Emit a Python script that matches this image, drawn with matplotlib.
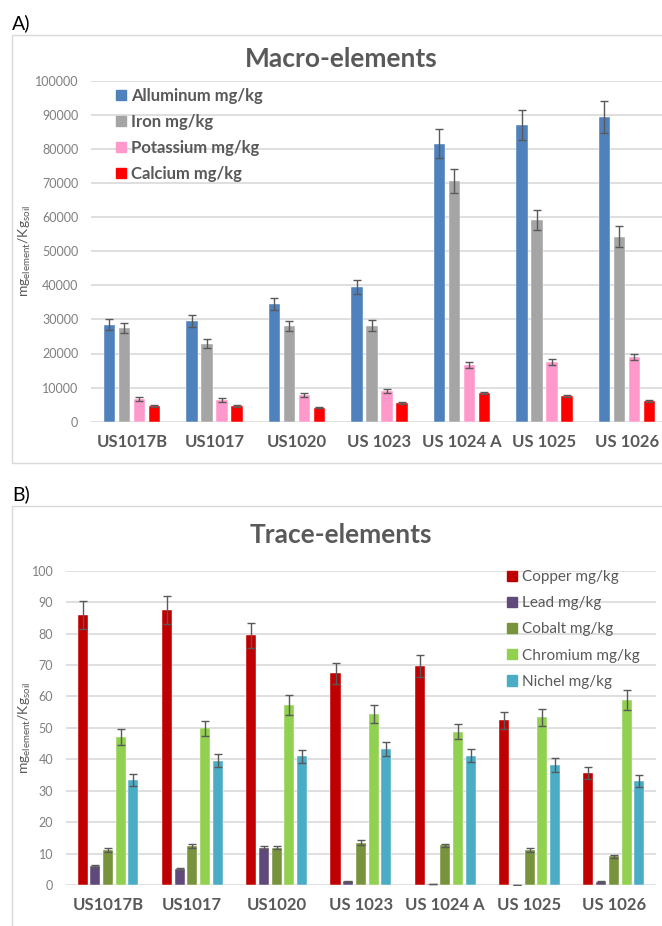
import matplotlib
matplotlib.use("Agg")
import matplotlib.pyplot as plt
from matplotlib.patches import Patch, Rectangle
import numpy as np

plt.rcParams['font.family'] = ['Lato', 'DejaVu Sans']
plt.rcParams['mathtext.fontset'] = 'custom'
plt.rcParams['mathtext.rm'] = 'Lato'
plt.rcParams['mathtext.it'] = 'Lato:italic'

samples = ["US1017B", "US1017", "US1020", "US 1023", "US 1024 A", "US 1025", "US 1026"]

# Macro-elements (mg/kg)
macro_labels = ["Alluminum mg/kg", "Iron mg/kg", "Potassium mg/kg", "Calcium mg/kg"]
aluminum = [28400, 29600, 34500, 39500, 81500, 87000, 89400]
aluminum_err = [1600, 1700, 1700, 2000, 4200, 4400, 4700]
iron = [27400, 22900, 28000, 28200, 70600, 59200, 54300]
iron_err = [1500, 1300, 1500, 1600, 3600, 3000, 3100]
potassium = [6700, 6400, 7700, 9000, 16700, 17500, 19100]
potassium_err = [500, 500, 600, 500, 900, 900, 900]
calcium = [4500, 4500, 4100, 5500, 8500, 7500, 6000]
calcium_err = [300, 300, 200, 300, 300, 200, 300]
macro_colors = ["#4f81bd", "#a5a5a5", "#ff99cc", "#ff0000"]

# Trace-elements (mg/kg)
trace_labels = ["Copper mg/kg", "Lead mg/kg", "Cobalt mg/kg", "Chromium mg/kg", "Nichel mg/kg"]
copper = [86.0, 87.6, 79.4, 67.3, 69.7, 52.4, 35.6]
copper_err = [4.4, 4.4, 4.1, 3.3, 3.4, 2.7, 2.0]
lead = [6.1, 5.0, 11.9, 1.2, 0.2, 0.0, 1.1]
lead_err = [0.3, 0.3, 0.6, 0.1, 0.0, 0.0, 0.1]
cobalt = [11.1, 12.4, 11.9, 13.5, 12.6, 11.1, 9.2]
cobalt_err = [0.6, 0.6, 0.6, 0.7, 0.6, 0.6, 0.5]
chromium = [47.0, 49.9, 57.3, 54.4, 48.8, 53.3, 58.9]
chromium_err = [2.5, 2.4, 3.2, 2.9, 2.5, 2.8, 3.3]
nickel = [33.4, 39.5, 40.9, 43.3, 41.1, 38.2, 33.1]
nickel_err = [1.9, 2.1, 2.0, 2.1, 2.1, 2.2, 1.8]
trace_colors = ["#c00000", "#604a7b", "#77933c", "#92d050", "#4bacc6"]

TEXT = "#595959"
GRID = "#d9d9d9"
W, H = 662, 926

fig = plt.figure(figsize=(W / 100, H / 100), dpi=100)


def px_axes(left, right, top, bottom):
    return fig.add_axes([left / W, 1 - bottom / H, (right - left) / W, (bottom - top) / H])


def style_axes(ax, ymax, step, label_size):
    ax.set_xlim(-0.5, len(samples) - 0.5)
    ax.set_ylim(0, ymax)
    ax.set_yticks(np.arange(0, ymax + step / 2, step))
    ax.set_xticks(range(len(samples)))
    ax.set_xticklabels(samples, fontsize=label_size, fontweight='bold', color=TEXT)
    ax.tick_params(axis='x', length=0, pad=9)
    ax.tick_params(axis='y', length=0, pad=9, labelsize=9, labelcolor="#7f7f7f")
    for s in ax.spines.values():
        s.set_visible(False)
    ax.grid(axis='y', color=GRID, lw=1.2)
    ax.set_axisbelow(True)
    ax.patch.set_alpha(0)


def grouped_bars(ax, series, errors, colors, width, pitch):
    x = np.arange(len(samples))
    n = len(series)
    for i, (vals, errs, c) in enumerate(zip(series, errors, colors)):
        off = (i - (n - 1) / 2) * pitch
        ax.bar(x + off, vals, width, color=c, edgecolor='white', linewidth=0.3,
               yerr=errs, error_kw=dict(ecolor=TEXT, elinewidth=1.0, capsize=3, capthick=1.0))


# Panel frames
fig.add_artist(Rectangle((11.7 / W, 1 - 462.7 / H), 1.0, (462.7 - 35) / H,
                         transform=fig.transFigure, fill=False, edgecolor=GRID, lw=1.0))
fig.add_artist(Rectangle((11.7 / W, -0.05), 1.0, 0.05 + (926 - 505.7) / H,
                         transform=fig.transFigure, fill=False, edgecolor=GRID, lw=1.0))
fig.text(12 / W, 1 - 23 / H, "A)", fontsize=14, va='center', ha='left', color='black')
fig.text(12 / W, 1 - 494 / H, "B)", fontsize=14, va='center', ha='left', color='black')

# A) Macro-elements
ax1 = px_axes(90.75, 668, 80.7, 421.7)
style_axes(ax1, 100000, 10000, 12)
grouped_bars(ax1, [aluminum, iron, potassium, calcium],
             [aluminum_err, iron_err, potassium_err, calcium_err], macro_colors, 0.139, 0.182)
fig.text(341 / W, 1 - 59 / H, "Macro-elements", fontsize=19, fontweight='bold',
         color=TEXT, ha='center', va='center')
fig.text(25 / W, 1 - 251 / H, r"mg$_{\mathregular{element}}$/Kg$_{\mathregular{soil}}$",
         rotation=90, fontsize=10, color=TEXT, ha='center', va='center')
leg1 = ax1.legend([Patch(color=c) for c in macro_colors], macro_labels,
                  loc='upper left', bbox_to_anchor=((116 - 90.75) / 577.25, (421.7 - 88) / 341),
                  frameon=False, handlelength=0.6, handleheight=0.6, handletextpad=0.3,
                  labelspacing=0.6, borderpad=0, borderaxespad=0,
                  prop=dict(size=12, weight='bold'))
for t in leg1.get_texts():
    t.set_color(TEXT)

# B) Trace-elements
ax2 = px_axes(65.8, 656, 570.7, 885)
style_axes(ax2, 100, 10, 12)
grouped_bars(ax2, [copper, lead, cobalt, chromium, nickel],
             [copper_err, lead_err, cobalt_err, chromium_err, nickel_err],
             trace_colors, 0.119, 0.1506)
fig.text(341 / W, 1 - 535 / H, "Trace-elements", fontsize=19, fontweight='bold',
         color=TEXT, ha='center', va='center')
fig.text(25 / W, 1 - 728 / H, r"mg$_{\mathregular{element}}$/Kg$_{\mathregular{soil}}$",
         rotation=90, fontsize=10, color=TEXT, ha='center', va='center')
leg2 = ax2.legend([Patch(color=c) for c in trace_colors], trace_labels,
                  loc='upper left', bbox_to_anchor=((507 - 65.8) / 590.2, (885 - 570) / 314.3),
                  frameon=False, handlelength=0.65, handleheight=0.65, handletextpad=0.3,
                  labelspacing=0.8, borderpad=0, borderaxespad=0,
                  prop=dict(size=11))
for t in leg2.get_texts():
    t.set_color(TEXT)

fig.savefig("out.png", dpi=100)
